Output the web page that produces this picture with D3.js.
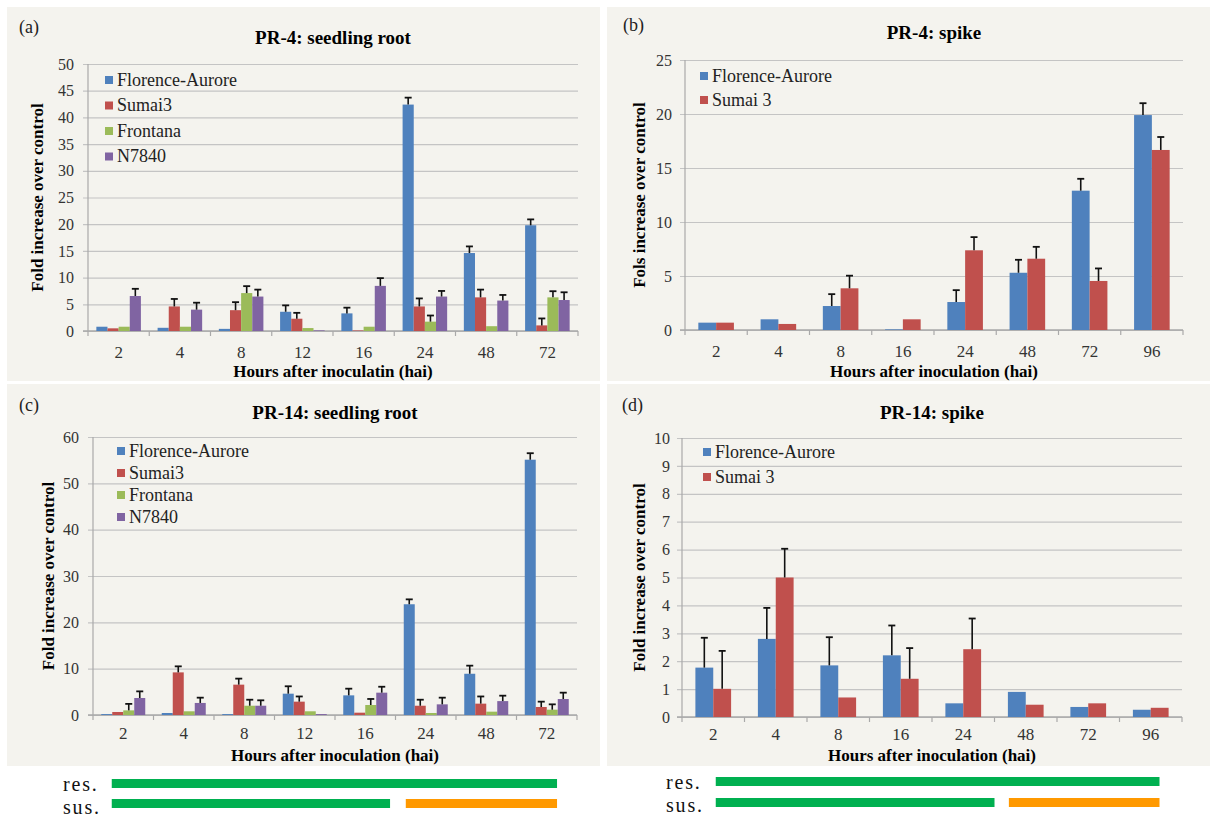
<!DOCTYPE html>
<html>
<head>
<meta charset="utf-8">
<script src="https://cdn.jsdelivr.net/npm/d3@7"></script>
<style>
  body { margin: 0; background: #fff; }
  svg, svg text { font-family: "Liberation Serif", Tinos, "Times New Roman", serif !important; }
</style>
</head>
<body>
<div id="fig"></div>
<script>
// ---- data ----
const rootLines = ["Florence-Aurore", "Sumai3", "Frontana", "N7840"];
const spikeLines = ["Florence-Aurore", "Sumai 3"];
const rootHours = ["2", "4", "8", "12", "16", "24", "48", "72"];
const spikeHours = ["2", "4", "8", "16", "24", "48", "72", "96"];

// (a) PR-4 seedling root
const pr4RootFA = [0.8, 0.6, 0.4, 3.6, 3.3, 42.4, 14.6, 19.8];
const pr4RootSu = [0.5, 4.6, 3.9, 2.3, 0.1, 4.6, 6.3, 1.05];
const pr4RootFr = [0.8, 0.8, 7.1, 0.55, 0.8, 1.75, 0.9, 6.3];
const pr4RootN7 = [6.55, 4.0, 6.45, 0.12, 8.45, 6.45, 5.7, 5.8];
const pr4RootFAErr = [0, 0, 0, 1.2, 1.07, 1.3, 1.24, 1.1];
const pr4RootSuErr = [0, 1.4, 1.5, 1.1, 0, 1.5, 1.45, 1.3];
const pr4RootFrErr = [0, 0, 1.3, 0, 0, 1.15, 0, 1.15];
const pr4RootN7Err = [1.35, 1.3, 1.3, 0, 1.45, 1.05, 1.05, 1.45];

// (b) PR-4 spike
const pr4SpikeFA = [0.68, 0.99, 2.22, 0.06, 2.59, 5.3, 12.9, 19.9];
const pr4SpikeSu = [0.68, 0.56, 3.86, 0.99, 7.38, 6.6, 4.54, 16.67];
const pr4SpikeFAErr = [0, 0, 1.1, 0, 1.1, 1.2, 1.1, 1.1];
const pr4SpikeSuErr = [0, 0, 1.17, 0, 1.22, 1.1, 1.16, 1.2];

// (c) PR-14 seedling root
const pr14RootFA = [0.2, 0.43, 0.2, 4.6, 4.24, 23.9, 8.9, 55.1];
const pr14RootSu = [0.65, 9.2, 6.55, 2.88, 0.5, 2.0, 2.45, 1.73];
const pr14RootFr = [1.0, 0.8, 2.0, 0.8, 2.16, 0.43, 0.72, 1.15];
const pr14RootN7 = [3.67, 2.6, 2.0, 0.2, 4.82, 2.3, 3.0, 3.45];
const pr14RootFAErr = [0, 0, 0, 1.6, 1.44, 1.06, 1.75, 1.4];
const pr14RootSuErr = [0, 1.3, 1.3, 1.12, 0, 1.3, 1.55, 1.15];
const pr14RootFrErr = [1.4, 0, 1.3, 0, 1.3, 0, 0, 1.15];
const pr14RootN7Err = [1.43, 1.14, 1.17, 0, 1.28, 1.44, 1.17, 1.37];

// (d) PR-14 spike
const pr14SpikeFA = [1.77, 2.8, 1.85, 2.21, 0.49, 0.9, 0.36, 0.26];
const pr14SpikeSu = [1.01, 5.0, 0.7, 1.37, 2.43, 0.44, 0.49, 0.33];
const pr14SpikeFAErr = [1.07, 1.11, 1.01, 1.07, 0, 0, 0, 0];
const pr14SpikeSuErr = [1.36, 1.03, 0, 1.1, 1.1, 0, 0, 0];

// res./sus. strips, in category units along each lower x axis
const rootRes = [[0.31, 7.67, "green"]];
const rootSus = [[0.31, 4.91, "green"], [5.17, 7.67, "orange"]];
const spikeRes = [[0.54, 7.64, "green"]];
const spikeSus = [[0.54, 5.0, "green"], [5.23, 7.64, "orange"]];

const colors = ["#4f81bd", "#c0504d", "#9bbb59", "#8064a2"];
const stripColors = { green: "#00b050", orange: "#ff9900" };
const serif = '"Liberation Serif", Tinos, "Times New Roman", serif';

const svg = d3.select("#fig").append("svg")
  .attr("width", 1210)
  .attr("height", 819)
  .attr("font-family", serif);

function drawPanel(cfg) {
  const g = svg.append("g");
  g.append("rect")
    .attr("x", cfg.bg[0]).attr("y", cfg.bg[1])
    .attr("width", cfg.bg[2]).attr("height", cfg.bg[3])
    .attr("fill", "#f4f3ee");

  const n = cfg.series.length;
  const p = 1.5 / (n + 1.5); // excel gap width 150%
  const x0 = d3.scaleBand().domain(cfg.cats)
    .range([cfg.x, cfg.x + cfg.w])
    .paddingInner(p).paddingOuter(p / 2);
  const x1 = d3.scaleBand().domain(d3.range(n)).range([0, x0.bandwidth()]);
  const y = d3.scaleLinear().domain([0, cfg.yMax]).range([cfg.y + cfg.h, cfg.y]);

  // gridlines + y labels
  const yAx = g.append("g")
    .attr("transform", "translate(" + cfg.x + ",0)")
    .call(d3.axisLeft(y)
      .tickValues(d3.range(0, cfg.yMax + cfg.step / 2, cfg.step))
      .tickSize(-cfg.w)
      .tickPadding(cfg.yPad))
    .attr("font-family", serif);
  yAx.select(".domain").remove();
  yAx.selectAll(".tick line").attr("x1", -5).attr("stroke", "#c4c4c4").attr("stroke-width", 1.2);
  yAx.selectAll(".tick text")
    .attr("font-size", 16).attr("fill", "#333");
  g.append("line")
    .attr("x1", cfg.x).attr("x2", cfg.x)
    .attr("y1", y(cfg.yMax)).attr("y2", y(0))
    .attr("stroke", "#a9a9a9").attr("stroke-width", 1.2);

  // x axis
  const xAx = g.append("g")
    .attr("transform", "translate(0," + y(0) + ")")
    .call(d3.axisBottom(x0).tickSize(0).tickPadding(cfg.xPad))
    .attr("font-family", serif);
  xAx.select(".domain").remove();
  xAx.selectAll(".tick text")
    .attr("font-size", 17).attr("fill", "#333");
  g.append("line")
    .attr("x1", cfg.x - 5).attr("x2", cfg.x + cfg.w)
    .attr("y1", y(0)).attr("y2", y(0))
    .attr("stroke", "#a9a9a9").attr("stroke-width", 1.4);
  g.selectAll(".bound")
    .data(d3.range(cfg.cats.length + 1))
    .join("line")
    .attr("x1", i => cfg.x + i * x0.step())
    .attr("x2", i => cfg.x + i * x0.step())
    .attr("y1", y(0)).attr("y2", y(0) + 5)
    .attr("stroke", "#a9a9a9").attr("stroke-width", 1.2);

  // bars
  cfg.values.forEach((vals, i) => {
    g.append("g").selectAll("rect")
      .data(vals)
      .join("rect")
      .attr("x", (d, j) => x0(cfg.cats[j]) + x1(i))
      .attr("y", d => y(d))
      .attr("width", x1.bandwidth())
      .attr("height", d => y(0) - y(d))
      .attr("fill", colors[i]);
  });

  // error bars (upper only)
  cfg.errors.forEach((errs, i) => {
    errs.forEach((e, j) => {
      if (!e) return;
      const cx = x0(cfg.cats[j]) + x1(i) + x1.bandwidth() / 2;
      const v = cfg.values[i][j];
      g.append("line")
        .attr("x1", cx).attr("x2", cx)
        .attr("y1", y(v)).attr("y2", y(v + e))
        .attr("stroke", "#111").attr("stroke-width", 1.6);
      g.append("line")
        .attr("x1", cx - 3.5).attr("x2", cx + 3.5)
        .attr("y1", y(v + e)).attr("y2", y(v + e))
        .attr("stroke", "#111").attr("stroke-width", 1.8);
    });
  });

  // legend
  const leg = g.append("g").selectAll("g")
    .data(cfg.series)
    .join("g")
    .attr("transform", (d, i) => "translate(" + cfg.legX + "," + (cfg.legY + i * cfg.legGap) + ")");
  leg.append("rect")
    .attr("x", 0).attr("y", -4).attr("width", 8).attr("height", 8)
    .attr("fill", (d, i) => colors[i]);
  leg.append("text")
    .attr("x", 12).attr("dy", "0.33em")
    .attr("font-size", 18).attr("fill", "#222")
    .text(d => d);

  // texts
  g.append("text")
    .attr("x", cfg.tag[0]).attr("y", cfg.tag[1]).attr("dy", "0.33em")
    .attr("font-size", 18).attr("fill", "#222")
    .text(cfg.tagText);
  g.append("text")
    .attr("x", cfg.x + cfg.w / 2).attr("y", cfg.titleY).attr("dy", "0.33em")
    .attr("text-anchor", "middle")
    .attr("font-size", 19).attr("font-weight", "bold")
    .text(cfg.title);
  g.append("text")
    .attr("x", cfg.x + cfg.w / 2).attr("y", cfg.xTitleY).attr("dy", "0.33em")
    .attr("text-anchor", "middle")
    .attr("font-size", 17).attr("font-weight", "bold")
    .text(cfg.xTitle);
  g.append("text")
    .attr("transform", "translate(" + cfg.yTitleX + "," + (cfg.y + cfg.h / 2) + ") rotate(-90)")
    .attr("dy", "0.33em")
    .attr("text-anchor", "middle")
    .attr("font-size", 17).attr("font-weight", "bold")
    .text(cfg.yTitle);

  return { x: cfg.x, step: x0.step() };
}

function drawStrips(ax, res, sus, textX, rows) {
  const s = d3.scaleLinear().domain([0, 1]).range([ax.x, ax.x + ax.step]);
  [res, sus].forEach((segs, r) => {
    svg.append("text")
      .attr("x", textX).attr("y", rows[r].base)
      .attr("font-size", 20).attr("letter-spacing", 1.8).attr("fill", "#111")
      .text(r === 0 ? "res." : "sus.");
    svg.append("g").selectAll("rect")
      .data(segs)
      .join("rect")
      .attr("x", d => s(d[0]))
      .attr("width", d => s(d[1]) - s(d[0]))
      .attr("y", rows[r].top)
      .attr("height", 9)
      .attr("fill", d => stripColors[d[2]]);
  });
}

drawPanel({
  bg: [7, 7, 593, 374], x: 88, y: 64, w: 490, h: 267, yMax: 50, step: 5, yPad: 14, xPad: 15,
  cats: rootHours, series: rootLines,
  values: [pr4RootFA, pr4RootSu, pr4RootFr, pr4RootN7],
  errors: [pr4RootFAErr, pr4RootSuErr, pr4RootFrErr, pr4RootN7Err],
  legX: 105, legY: 80, legGap: 25.5,
  tag: [19, 27], tagText: "(a)", title: "PR-4: seedling root", titleY: 38,
  xTitle: "Hours after inoculatin (hai)", xTitleY: 371,
  yTitle: "Fold increase over control", yTitleX: 37
});

drawPanel({
  bg: [607, 7, 603, 374], x: 685, y: 60, w: 498, h: 270, yMax: 25, step: 5, yPad: 13, xPad: 15,
  cats: spikeHours, series: spikeLines,
  values: [pr4SpikeFA, pr4SpikeSu],
  errors: [pr4SpikeFAErr, pr4SpikeSuErr],
  legX: 700, legY: 76, legGap: 24,
  tag: [623, 25], tagText: "(b)", title: "PR-4: spike", titleY: 33,
  xTitle: "Hours after inoculation (hai)", xTitleY: 371,
  yTitle: "Fols increase over control", yTitleX: 639
});

const axC = drawPanel({
  bg: [7, 384, 593, 382], x: 93, y: 437, w: 484, h: 278, yMax: 60, step: 10, yPad: 14, xPad: 12,
  cats: rootHours, series: rootLines,
  values: [pr14RootFA, pr14RootSu, pr14RootFr, pr14RootN7],
  errors: [pr14RootFAErr, pr14RootSuErr, pr14RootFrErr, pr14RootN7Err],
  legX: 117, legY: 451, legGap: 22,
  tag: [19, 405], tagText: "(c)", title: "PR-14: seedling root", titleY: 413,
  xTitle: "Hours after inoculation (hai)", xTitleY: 755,
  yTitle: "Fold increase over control", yTitleX: 48
});

const axD = drawPanel({
  bg: [607, 384, 603, 382], x: 682, y: 438, w: 500, h: 279, yMax: 10, step: 1, yPad: 12, xPad: 11,
  cats: spikeHours, series: spikeLines,
  values: [pr14SpikeFA, pr14SpikeSu],
  errors: [pr14SpikeFAErr, pr14SpikeSuErr],
  legX: 703, legY: 452, legGap: 25,
  tag: [622, 405], tagText: "(d)", title: "PR-14: spike", titleY: 413,
  xTitle: "Hours after inoculation (hai)", xTitleY: 755,
  yTitle: "Fold increase over control", yTitleX: 639
});

drawStrips(axC, rootRes, rootSus, 63, [{ top: 779, base: 791 }, { top: 799, base: 814 }]);
drawStrips(axD, spikeRes, spikeSus, 666, [{ top: 777, base: 789 }, { top: 798, base: 812 }]);
</script>
</body>
</html>
